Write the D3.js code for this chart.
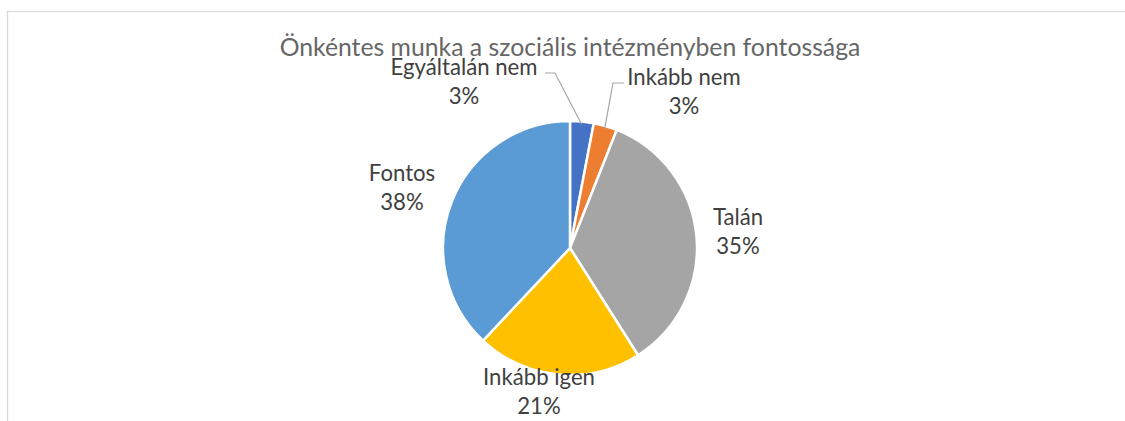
<!DOCTYPE html>
<html>
<head>
<meta charset="utf-8">
<script src="https://cdn.jsdelivr.net/npm/d3@7"></script>
<style>
  body { margin: 0; background: #fff; }
  text { font-family: Lato, "Open Sans", sans-serif; }
</style>
</head>
<body>
<div id="chart"></div>
<script>
// data
var categories = ["Egyáltalán nem", "Inkább nem", "Talán", "Inkább igen", "Fontos"];
var percents = [3, 3, 35, 21, 38];
var colors = ["#4472C4", "#ED7D31", "#A5A5A5", "#FFC000", "#5B9BD5"];
var title = "Önkéntes munka a szociális intézményben fontossága";

var width = 1125, height = 421;
var cx = 570, cy = 248, radius = 127;

// label placement relative to pie centre (x = centre of text, y = first baseline)
var labelPos = [
    { dx: -106, dy: -173 },
    { dx: 114, dy: -163 },
    { dx: 168, dy: -23 },
    { dx: -31, dy: 137 },
    { dx: -168, dy: -67 }
];
// leader line elbows for the two thin slices
var leaders = { 0: [[-25, -175], [-15, -175]], 1: [[54, -165], [43, -165]] };

var svg = d3.select("#chart").append("svg")
    .attr("width", width)
    .attr("height", height);

// chart frame
svg.append("rect")
    .attr("x", 7.5).attr("y", 11.5)
    .attr("width", width + 20).attr("height", height + 20)
    .attr("fill", "none")
    .attr("stroke", "#d9d9d9")
    .attr("stroke-width", 1.3);

// shrink/grow a text to a target width (Calibri is not installed)
function fitSize(str, target, base) {
    var t = svg.append("text").style("font-size", base + "px").text(str);
    var w = t.node().getComputedTextLength();
    t.remove();
    return base * target / w;
}

var titleSize = fitSize(title, 581, 20);
var labelSize = fitSize("Egyáltalán nem", 147, 17);

svg.append("text")
    .attr("x", cx)
    .attr("y", 56)
    .attr("text-anchor", "middle")
    .style("font-size", titleSize + "px")
    .style("fill", "#666666")
    .text(title);

var data = categories.map(function(c, i) { return { name: c, value: percents[i], color: colors[i] }; });

var pie = d3.pie().sort(null).value(function(d) { return d.value; });
var arc = d3.arc().innerRadius(0).outerRadius(radius);
var arcs = pie(data);

var g = svg.append("g").attr("transform", "translate(" + cx + "," + cy + ")");

g.selectAll("path.slice")
    .data(arcs)
    .enter().append("path")
    .attr("class", "slice")
    .attr("d", arc)
    .attr("fill", function(d) { return d.data.color; })
    .attr("stroke", "#fff")
    .attr("stroke-width", 2.5)
    .attr("stroke-linejoin", "round");

var edgeArc = d3.arc().innerRadius(radius - 3).outerRadius(radius - 3);
arcs.forEach(function(a, i) {
    if (!leaders[i]) return;
    var pts = leaders[i].concat([edgeArc.centroid(a)]);
    g.append("path")
        .attr("d", d3.line()(pts))
        .attr("fill", "none")
        .attr("stroke", "#a6a6a6")
        .attr("stroke-width", 1.2);
});

var labels = g.selectAll("g.label")
    .data(arcs)
    .enter().append("g")
    .attr("class", "label")
    .attr("transform", function(d, i) { return "translate(" + labelPos[i].dx + "," + labelPos[i].dy + ")"; });

labels.append("text")
    .attr("text-anchor", "middle")
    .style("font-size", labelSize + "px")
    .style("fill", "#404040")
    .text(function(d) { return d.data.name; });

labels.append("text")
    .attr("text-anchor", "middle")
    .attr("y", 29)
    .style("font-size", labelSize + "px")
    .style("fill", "#404040")
    .text(function(d) { return d.data.value + "%"; });
</script>
</body>
</html>
